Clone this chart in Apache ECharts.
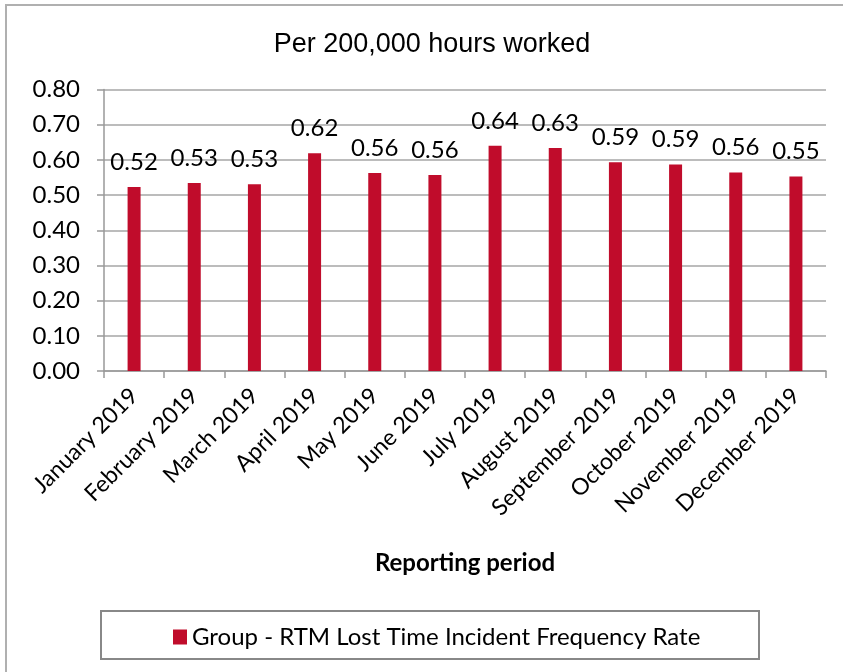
<!DOCTYPE html>
<html>
<head>
<meta charset="utf-8">
<script src="https://cdn.jsdelivr.net/npm/echarts@6/dist/echarts.min.js"></script>
<style>
html,body{margin:0;padding:0;background:#fff;}
#chart{width:843px;height:672px;}
</style>
</head>
<body>
<div id="chart"></div>
<script>
const categories = ["January 2019","February 2019","March 2019","April 2019","May 2019","June 2019","July 2019","August 2019","September 2019","October 2019","November 2019","December 2019"];
const seriesName = "Group - RTM Lost Time Incident Frequency Rate";
const values = [0.523,0.534,0.531,0.619,0.563,0.557,0.640,0.634,0.593,0.587,0.564,0.553];
const yTicks = {min:0, max:0.8, interval:0.1};
const titleText = "Per 200,000 hours worked";
const xAxisName = "Reporting period";

const chart = echarts.init(document.getElementById('chart'), null, {renderer:'canvas'});
const bodyFont = 'Lato, "Open Sans", sans-serif';
chart.setOption({
  backgroundColor:'#ffffff',
  animation:false,
  title:{
    text:titleText, left:427, top:26, textAlign:'center',
    textStyle:{fontFamily:'"Liberation Sans Narrow","Liberation Sans",Arial,sans-serif', fontSize:27, fontWeight:'normal', color:'#000'}
  },
  graphic:[
    {type:'rect', shape:{x:6, y:5, width:900, height:800}, style:{fill:'none', stroke:'#b0b0b0', lineWidth:2}, silent:true, z:-1},
    {type:'rect', shape:{x:101, y:611, width:658, height:48}, style:{fill:'none', stroke:'#888888', lineWidth:2}, silent:true}
  ],
  legend:{
    data:[seriesName], left:168, top:620, itemWidth:14, itemHeight:15, itemGap:8,
    icon:'rect',
    textStyle:{fontFamily:bodyFont, fontSize:24, color:'#000'},
    selectedMode:false
  },
  grid:{left:104, right:17, top:89.5, bottom:301, containLabel:false},
  xAxis:{
    type:'category', data:categories,
    name:xAxisName, nameLocation:'middle', nameGap:180,
    nameTextStyle:{fontFamily:bodyFont, fontSize:24, fontWeight:'bold', color:'#000'},
    axisLine:{lineStyle:{color:'#999', width:1.5}},
    axisTick:{show:true, alignWithLabel:false, length:7, lineStyle:{color:'#999', width:1.5}},
    axisLabel:{rotate:45, margin:21, fontFamily:bodyFont, fontSize:23, color:'#000', interval:0},
    splitLine:{show:false}
  },
  yAxis:{
    type:'value', min:yTicks.min, max:yTicks.max, interval:yTicks.interval,
    axisLine:{show:true, lineStyle:{color:'#999', width:1.5}},
    axisTick:{show:true, length:7, lineStyle:{color:'#999', width:1.5}},
    axisLabel:{margin:24, fontFamily:bodyFont, fontSize:24, color:'#000', formatter:v=>v.toFixed(2)},
    splitLine:{show:true, lineStyle:{color:'#a6a6a6', width:1.5}}
  },
  series:[{
    type:'bar', name:seriesName, data:values, barWidth:13,
    itemStyle:{color:'#c00c2b'},
    label:{show:true, position:'top', distance:13, fontFamily:bodyFont, fontSize:24, color:'#000', formatter:p=>p.value.toFixed(2)}
  }]
});
</script>
</body>
</html>
